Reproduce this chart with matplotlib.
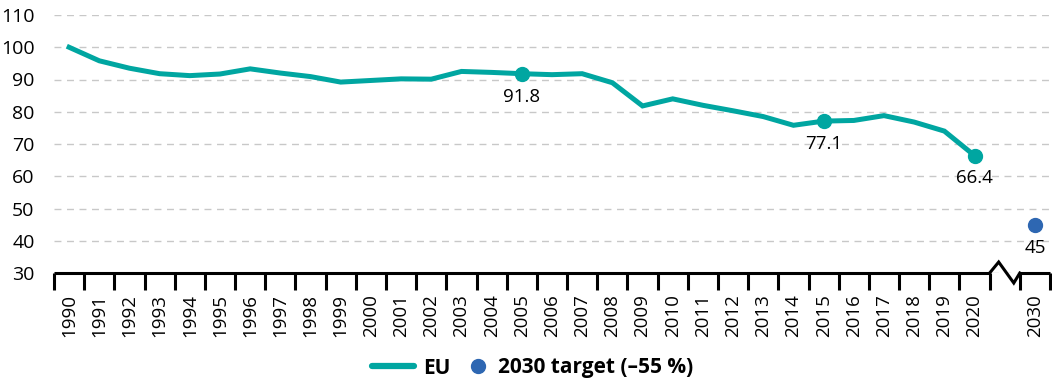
import matplotlib.pyplot as plt
import numpy as np

plt.rcParams['font.family'] = ['Open Sans', 'DejaVu Sans']

years = list(range(1990, 2021))
eu = [100.0, 95.8, 93.5, 91.8, 91.2, 91.7, 93.3, 92.0, 90.9, 89.2,
      89.7, 90.2, 90.1, 92.5, 92.2, 91.8, 91.5, 91.8, 89.0, 81.8,
      84.0, 82.0, 80.3, 78.5, 75.8, 77.1, 77.3, 78.8, 76.8, 74.0,
      66.4]
target_year = 2030
target_value = 45
marked_years = [2005, 2015, 2020]

teal = '#00a6a1'
blue = '#2e67b2'

fig = plt.figure(figsize=(10.52, 3.79), dpi=100)
ax = fig.add_axes([54 / 1052, 1 - 273 / 379, 996 / 1052, 258 / 379])

# slot positions: one per year, an empty slot for the axis break, then 2030
xpos = np.arange(len(years))
target_x = len(years) + 1

ax.plot(xpos, eu, color=teal, lw=3.6, solid_joinstyle='miter', zorder=3)
for y in marked_years:
    i = years.index(y)
    ax.plot(xpos[i], eu[i], 'o', color=teal, ms=10, zorder=4)
    ax.annotate(f'{eu[i]:.1f}', (xpos[i], eu[i]), xytext=(0, -10),
                textcoords='offset points', ha='center', va='top', fontsize=13.5)
ax.plot(target_x, target_value, 'o', color=blue, ms=10, zorder=4)
ax.annotate(f'{target_value}', (target_x, target_value), xytext=(0, -10),
            textcoords='offset points', ha='center', va='top', fontsize=13.5)

ax.set_xlim(-0.5, target_x + 0.5)
ax.set_ylim(30, 110)
ax.set_yticks(range(30, 111, 10))
ax.yaxis.grid(True, color='#c8c8c8', ls=(0, (5, 4)), lw=1)
ax.set_axisbelow(True)
ax.tick_params(axis='y', length=0, labelsize=14, pad=14)

labels = [str(y) for y in years] + ['', str(target_year)]
ax.set_xticks(np.arange(len(labels)))
ax.set_xticklabels(labels, rotation=90, fontsize=13.5)
ax.set_xticks(list(np.arange(-0.5, len(years), 1.0)) + [target_x - 0.5, target_x + 0.5], minor=True)
ax.tick_params(axis='x', which='major', length=0, pad=15)
ax.tick_params(axis='x', which='minor', length=12, width=2.2, color='black', direction='out')

for s in ax.spines.values():
    s.set_visible(False)

# bottom axis line with a zigzag break before 2030
b = len(years) - 0.5
ax.plot([-0.5, b], [30, 30], color='black', lw=2.2, clip_on=False, solid_capstyle='butt')
ax.plot([b, b + 0.3, b + 0.8, b + 1.0], [30, 33.4, 26.9, 30], color='black', lw=2.2,
        clip_on=False, solid_joinstyle='miter')
ax.plot([b + 1.0, target_x + 0.5], [30, 30], color='black', lw=2.2, clip_on=False,
        solid_capstyle='butt')

# legend: two pieces so the line and the dot get their own handle widths
h1, = ax.plot([], [], color=teal, lw=4.5, solid_capstyle='round')
h2, = ax.plot([], [], 'o', color=blue, ms=10)
leg_y = 1 - 368 / 379
prop = {'weight': 'bold', 'size': 15}
fig.legend([h1], ['EU'], loc='center left', bbox_to_anchor=(372 / 1052, leg_y),
           frameon=False, handlelength=2.0, handletextpad=0.45,
           borderpad=0, borderaxespad=0, prop=prop)
fig.legend([h2], ['2030 target (\u201355 %)'], loc='center left',
           bbox_to_anchor=(468 / 1052, leg_y), frameon=False, handlelength=1.0,
           handletextpad=0.45, borderpad=0, borderaxespad=0, prop=prop)

fig.savefig('out.png', dpi=100)
